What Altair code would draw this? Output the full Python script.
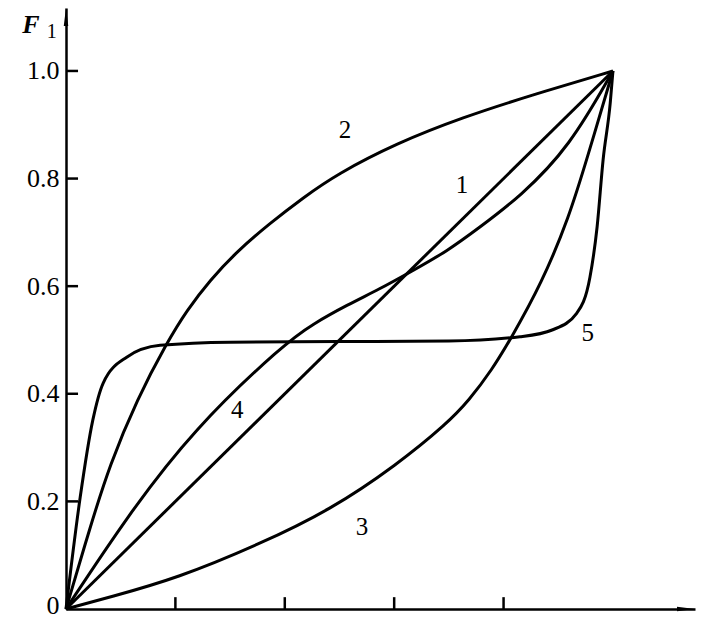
import altair as alt
import pandas as pd

# ---- data (f1 -> F1) ----
c1_f = [0.0, 1.0]
c1_F = [0.0, 1.0]

c2_f = [0.0, 0.044, 0.080, 0.130, 0.185, 0.221, 0.263, 0.313, 0.373, 0.433, 0.495, 0.605, 0.726, 0.848, 1.0]
c2_F = [0.0, 0.152, 0.268, 0.390, 0.496, 0.555, 0.611, 0.665, 0.717, 0.764, 0.808, 0.866, 0.914, 0.954, 1.0]

c3_f = [0.0, 0.080, 0.203, 0.355, 0.483, 0.605, 0.697, 0.737, 0.779, 0.812, 0.870, 0.920, 0.952, 1.0]
c3_F = [0.0, 0.022, 0.057, 0.121, 0.184, 0.268, 0.345, 0.388, 0.445, 0.500, 0.606, 0.729, 0.835, 1.0]

c4_f = [0.0, 0.111, 0.232, 0.400, 0.452, 0.514, 0.574, 0.629, 0.697, 0.757, 0.830, 0.921, 1.0]
c4_F = [0.0, 0.171, 0.333, 0.494, 0.530, 0.565, 0.595, 0.626, 0.665, 0.710, 0.766, 0.859, 1.0]

c5_f = [0.0, 0.026, 0.049, 0.068, 0.111, 0.172, 0.300, 0.500, 0.700, 0.830, 0.890, 0.934, 0.958, 0.971, 0.982, 0.995, 1.0]
c5_F = [0.0, 0.208, 0.351, 0.420, 0.468, 0.490, 0.496, 0.497, 0.498, 0.506, 0.519, 0.550, 0.617, 0.710, 0.835, 0.940, 1.0]

curve_names = ["1", "2", "3", "4", "5"]
label_f = [0.724, 0.510, 0.541, 0.313, 0.954]
label_F = [0.788, 0.890, 0.152, 0.370, 0.513]

y_ticks = [0.0, 0.2, 0.4, 0.6, 0.8, 1.0]
x_ticks = [0.2, 0.4, 0.6, 0.8]

X_MAX = 1.15
Y_MAX = 1.117

# ---- tables ----
def table(pairs):
    rows = []
    for name, fs, Fs in pairs:
        for a, b in zip(fs, Fs):
            rows.append({"curve": name, "f": a, "F": b})
    return pd.DataFrame(rows)

smooth = table([("1", c1_f, c1_F), ("2", c2_f, c2_F), ("3", c3_f, c3_F), ("4", c4_f, c4_F)])
sharp = table([("5", c5_f, c5_F)])
labels = pd.DataFrame({"t": curve_names, "f": label_f, "F": label_F})

xs = alt.Scale(domain=[0, X_MAX], nice=False, zero=False)
ys = alt.Scale(domain=[0, Y_MAX], nice=False, zero=False)

yaxis = alt.Axis(values=y_ticks, ticks=False, grid=False, title=None,
                 labelExpr="datum.value == 0 ? '0' : format(datum.value, '.1f')",
                 labelFont="Liberation Serif", labelFontSize=26, labelColor="black",
                 labelOffset={"condition": {"test": "datum.value == 0", "value": -4}, "value": 0},
                 labelPadding=7, domainColor="black", domainWidth=2.5)
xaxis = alt.Axis(labels=False, ticks=False, grid=False, title=None,
                 domainColor="black", domainWidth=2.5)

lines_smooth = alt.Chart(smooth).mark_line(color="black", strokeWidth=3, interpolate="basis").encode(
    x=alt.X("f:Q", scale=xs, axis=xaxis),
    y=alt.Y("F:Q", scale=ys, axis=yaxis),
    detail="curve:N",
)
lines_sharp = alt.Chart(sharp).mark_line(color="black", strokeWidth=3, interpolate="monotone").encode(
    x=alt.X("f:Q", scale=xs),
    y=alt.Y("F:Q", scale=ys),
    detail="curve:N",
)

text = alt.Chart(labels).mark_text(font="Liberation Serif", fontSize=25, color="black").encode(
    x=alt.X("f:Q", scale=xs), y=alt.Y("F:Q", scale=ys), text="t:N"
)

ytick_df = pd.DataFrame({"F": y_ticks[1:], "x0": 0.0, "x1": 0.022})
yt = alt.Chart(ytick_df).mark_rule(color="black", strokeWidth=2.5).encode(
    x=alt.X("x0:Q", scale=xs), x2="x1:Q", y=alt.Y("F:Q", scale=ys)
)
xtick_df = pd.DataFrame({"f": x_ticks, "y0": 0.0, "y1": 0.022})
xt = alt.Chart(xtick_df).mark_rule(color="black", strokeWidth=2.5).encode(
    x=alt.X("f:Q", scale=xs), y=alt.Y("y0:Q", scale=ys), y2="y1:Q"
)

arrow_y = alt.Chart(pd.DataFrame({"f": [0.0], "F": [Y_MAX - 9 / 538]})).mark_point(
    shape="M0,-1L0.25,1L-0.25,1Z", size=324, filled=True, color="black", opacity=1
).encode(x=alt.X("f:Q", scale=xs), y=alt.Y("F:Q", scale=ys))
arrow_x = alt.Chart(pd.DataFrame({"f": [X_MAX - 9 / 547], "F": [0.0]})).mark_point(
    shape="M1,0L-1,0.25L-1,-0.25Z", size=324, filled=True, color="black", opacity=1
).encode(x=alt.X("f:Q", scale=xs), y=alt.Y("F:Q", scale=ys))

ylab_F = alt.Chart(pd.DataFrame({"f": [-0.064], "F": [1.085], "t": ["F"]})).mark_text(
    font="Liberation Serif", fontSize=26, fontStyle="italic", fontWeight="bold", color="black"
).encode(x=alt.X("f:Q", scale=xs), y=alt.Y("F:Q", scale=ys), text="t:N")
ylab_1 = alt.Chart(pd.DataFrame({"f": [-0.026], "F": [1.072], "t": ["1"]})).mark_text(
    font="Liberation Serif", fontSize=20, color="black"
).encode(x=alt.X("f:Q", scale=xs), y=alt.Y("F:Q", scale=ys), text="t:N")

chart = alt.layer(lines_smooth, lines_sharp, text, yt, xt, arrow_y, arrow_x, ylab_F, ylab_1).properties(
    width=629, height=601,
    autosize=alt.AutoSizeParams(type="none"),
    padding={"left": 58, "top": 0, "right": 10, "bottom": 9},
).configure_view(stroke=None)

chart.save("out.html", embed_options={"renderer": "svg", "actions": False})
